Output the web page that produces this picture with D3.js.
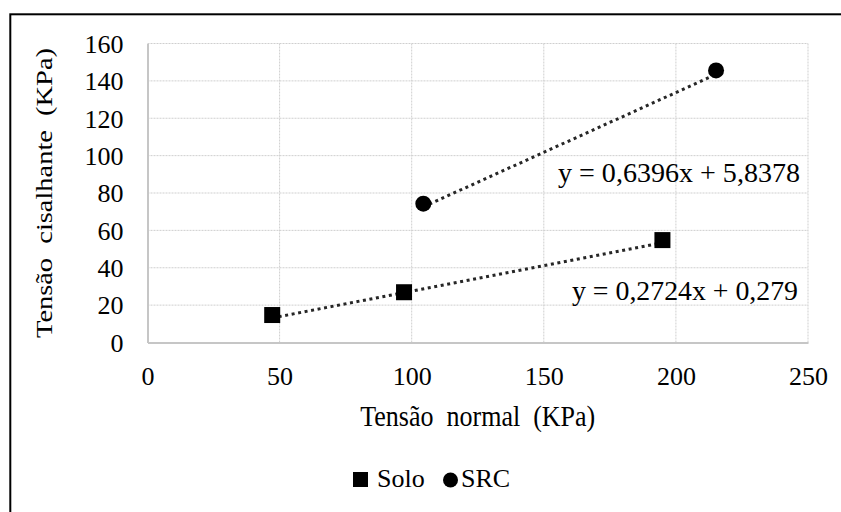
<!DOCTYPE html>
<html>
<head>
<meta charset="utf-8">
<script src="https://cdn.jsdelivr.net/npm/d3@7"></script>
<style>
  body { margin: 0; background: #fff; }
  svg text { font-family: "Liberation Serif", "Times New Roman", serif !important; }
</style>
</head>
<body>
<script>
// shear test results: normal stress vs shear stress (kPa)
const soloNormal = [47.2, 97.1, 194.9];
const soloShear = [14.7, 26.9, 54.8];
const srcNormal = [104.4, 215.2];
const srcShear = [74.3, 145.6];

// linear trendlines (slope, intercept) as printed on the chart
const soloFit = [0.2724, 0.279];
const srcFit = [0.6396, 5.8378];
const soloLabel = "y = 0,2724x + 0,279";
const srcLabel = "y = 0,6396x + 5,8378";

const xTicks = [0, 50, 100, 150, 200, 250];
const yTicks = [0, 20, 40, 60, 80, 100, 120, 140, 160];

const width = 841, height = 512;
const margin = { top: 43.5, right: 33, bottom: 169.5, left: 147.5 };

const svg = d3.select("body").append("svg")
  .attr("width", width)
  .attr("height", height);

// outer frame
svg.append("rect")
  .attr("x", 10.3).attr("y", 14.3)
  .attr("width", 1000).attr("height", 1000)
  .attr("fill", "none")
  .attr("stroke", "#000")
  .attr("stroke-width", 2);

const x = d3.scaleLinear().domain([0, 250]).range([margin.left, width - margin.right]);
const y = d3.scaleLinear().domain([0, 160]).range([height - margin.bottom, margin.top]);

// gridlines
svg.append("g").selectAll("line")
  .data(yTicks.slice(1))
  .join("line")
  .attr("x1", x(0)).attr("x2", x(250))
  .attr("y1", d => y(d)).attr("y2", d => y(d))
  .attr("stroke", "#cfcfcf")
  .attr("stroke-width", 1)
  .attr("stroke-dasharray", "2,1");

svg.append("g").selectAll("line")
  .data(xTicks.slice(1))
  .join("line")
  .attr("x1", d => x(d)).attr("x2", d => x(d))
  .attr("y1", y(0)).attr("y2", y(160))
  .attr("stroke", "#cfcfcf")
  .attr("stroke-width", 1)
  .attr("stroke-dasharray", "2,1");

// axes
const xAxis = svg.append("g")
  .attr("transform", `translate(0,${y(0)})`)
  .call(d3.axisBottom(x).tickValues(xTicks).tickSize(0).tickPadding(0));
xAxis.select(".domain").attr("stroke", "#c6c6c6").attr("stroke-width", 2);
xAxis.selectAll("text")
  .style("font-size", "26px")
  .attr("fill", "#000")
  .attr("dy", 0)
  .attr("y", 42.5);

const yAxis = svg.append("g")
  .attr("transform", `translate(${x(0)},0)`)
  .call(d3.axisLeft(y).tickValues(yTicks).tickSize(0).tickPadding(24));
yAxis.select(".domain").attr("stroke", "#c6c6c6").attr("stroke-width", 2);
yAxis.selectAll("text")
  .style("font-size", "26px")
  .attr("fill", "#000")
  .attr("dy", "0.34em");

// trendlines drawn from the fitted equations over each series' range
const line = d3.line().x(d => x(d[0])).y(d => y(d[1]));
function trend(xs, fit) {
  const x0 = d3.min(xs), x1 = d3.max(xs);
  return [[x0, fit[0] * x0 + fit[1]], [x1, fit[0] * x1 + fit[1]]];
}
[[soloNormal, soloFit], [srcNormal, srcFit]].forEach(([xs, fit]) => {
  svg.append("path")
    .datum(trend(xs, fit))
    .attr("d", line)
    .attr("fill", "none")
    .attr("stroke", "#262626")
    .attr("stroke-width", 3)
    .attr("stroke-dasharray", "3,3.6");
});

// markers
const solo = soloNormal.map((d, i) => [d, soloShear[i]]);
const src = srcNormal.map((d, i) => [d, srcShear[i]]);

svg.append("g").selectAll("rect")
  .data(solo)
  .join("rect")
  .attr("x", d => x(d[0]) - 8)
  .attr("y", d => y(d[1]) - 8)
  .attr("width", 16).attr("height", 16)
  .attr("fill", "#000");

svg.append("g").selectAll("circle")
  .data(src)
  .join("circle")
  .attr("cx", d => x(d[0]))
  .attr("cy", d => y(d[1]))
  .attr("r", 8)
  .attr("fill", "#000");

// equation labels
svg.append("text")
  .attr("x", 558).attr("y", 182)
  .style("font-size", "28px")
  .attr("textLength", 242)
  .attr("lengthAdjust", "spacingAndGlyphs")
  .text(srcLabel);

svg.append("text")
  .attr("x", 572).attr("y", 300)
  .style("font-size", "28px")
  .attr("textLength", 226)
  .attr("lengthAdjust", "spacingAndGlyphs")
  .text(soloLabel);

// axis titles
svg.append("text")
  .attr("x", (x(0) + x(250)) / 2).attr("y", 426)
  .attr("text-anchor", "middle")
  .style("font-size", "29px")
  .attr("textLength", 235)
  .attr("lengthAdjust", "spacingAndGlyphs")
  .style("white-space", "pre")
  .text("Tensão  normal  (KPa)");

svg.append("text")
  .attr("transform", `translate(52,${(y(0) + y(160)) / 2}) rotate(-90)`)
  .attr("text-anchor", "middle")
  .style("font-size", "24px")
  .attr("textLength", 290)
  .attr("lengthAdjust", "spacingAndGlyphs")
  .style("white-space", "pre")
  .text("Tensão  cisalhante  (KPa)");

// legend
const legend = svg.append("g");
legend.append("rect")
  .attr("x", 353).attr("y", 472)
  .attr("width", 15).attr("height", 15)
  .attr("fill", "#000");
legend.append("text")
  .attr("x", 377).attr("y", 487)
  .style("font-size", "26px")
  .text("Solo");
legend.append("circle")
  .attr("cx", 450.5).attr("cy", 480)
  .attr("r", 7.5)
  .attr("fill", "#000");
legend.append("text")
  .attr("x", 461).attr("y", 487)
  .style("font-size", "26px")
  .text("SRC");
</script>
</body>
</html>
